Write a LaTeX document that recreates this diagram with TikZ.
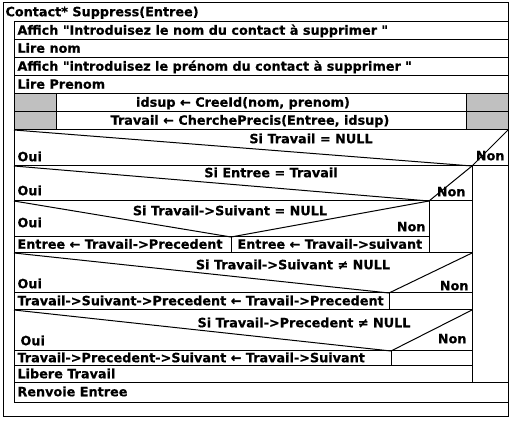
\documentclass[tikz,border=0pt]{standalone}
\usepackage{fontspec}
\setmainfont{DejaVu Sans}[Ligatures=TeXOff,BoldFeatures={FakeBold=0.6}]
\definecolor{cellgray}{RGB}{192,192,192}

\begin{document}
\begin{tikzpicture}[x=1pt,y=-1pt,line width=1pt,
    txt/.style={inner sep=0pt,font=\bfseries\fontsize{12.8}{14}\selectfont,
      text height=9pt,text depth=2.5pt},
    lbl/.style={txt,anchor=west},
    nonlbl/.style={txt,anchor=east}]
  \useasboundingbox (0,0) rectangle (515,425);
  % grey side cells of the two calls
  \fill[cellgray] (14,94) rectangle (56,130) (466,94) rectangle (508,130);
  % frames
  \draw (3,3) rectangle (508,416);
  \draw (14,22) rectangle (508,402);
  \foreach \y in {40,58,76,94,112,130,383}
    \draw (14,\y) -- (508,\y);
  \draw (56,94) -- (56,130) (466,94) -- (466,130);
  % Si Travail = NULL
  \draw (14,130) -- (472,166) -- (508,130);
  \draw (14,166) -- (508,166);
  \draw (472,166) -- (472,383);
  % Si Entree = Travail
  \draw (14,166) -- (429,201) -- (472,166);
  \draw (14,201) -- (472,201);
  \draw (429,201) -- (429,253);
  % Si Travail->Suivant = NULL
  \draw (14,201) -- (231,237) -- (429,201);
  \draw (14,237) -- (429,237);
  \draw (231,237) -- (231,253);
  \draw (14,253) -- (472,253);
  % Si Travail->Suivant <> NULL
  \draw (14,253) -- (389,293) -- (472,253);
  \draw (14,293) -- (472,293);
  \draw (389,293) -- (389,310);
  \draw (14,310) -- (472,310);
  % Si Travail->Precedent <> NULL
  \draw (14,310) -- (391,351) -- (472,310);
  \draw (14,351) -- (472,351);
  \draw (391,351) -- (391,366);
  \draw (14,366) -- (472,366);

  % texts
  \node[lbl] (title) at (5,13) {Contact* Suppress(Entree)};
  \node[lbl] (affNom) at (17,31.5) {Affich "Introduisez le nom du contact à supprimer "};
  \node[lbl] (lireNom) at (17,49.5) {Lire nom};
  \node[lbl] (affPrenom) at (17,67.5) {Affich "introduisez le prénom du contact à supprimer "};
  \node[lbl] (lirePrenom) at (17,85.5) {Lire Prenom};
  \node[txt] (idsup) at (243,103.5) {idsup ← CreeId(nom, prenom)};
  \node[txt] (travail) at (250,121.5) {Travail ← CherchePrecis(Entree, idsup)};
  \node[txt] (si1) at (311,140) {Si Travail = NULL};
  \node[txt] (si2) at (271,174) {Si Entree = Travail};
  \node[txt] (si3) at (230,212) {Si Travail->Suivant = NULL};
  \node[txt] (si4) at (293,266) {Si Travail->Suivant ≠ NULL};
  \node[txt] (si5) at (304,324) {Si Travail->Precedent ≠ NULL};
  \foreach \n/\x/\y in {1/17/158,2/17/192,3/17/224,4/17/285,5/20/342}
    \node[lbl] (oui\n) at (\x,\y) {Oui};
  \foreach \n/\x/\y in {1/505/157,2/466/193,3/426/228,4/469/287,5/467/340}
    \node[nonlbl] (non\n) at (\x,\y) {Non};
  \node[lbl] (precedent) at (17,245.5) {Entree ← Travail->Precedent};
  \node[lbl] (suivant) at (237,245.5) {Entree ← Travail->suivant};
  \node[lbl] (lienSuiv) at (17,302) {Travail->Suivant->Precedent ← Travail->Precedent};
  \node[lbl] (lienPrec) at (17,359) {Travail->Precedent->Suivant ← Travail->Suivant};
  \node[lbl] (libere) at (17,375) {Libere Travail};
  \node[lbl] (renvoie) at (17,393) {Renvoie Entree};
\end{tikzpicture}
\end{document}
